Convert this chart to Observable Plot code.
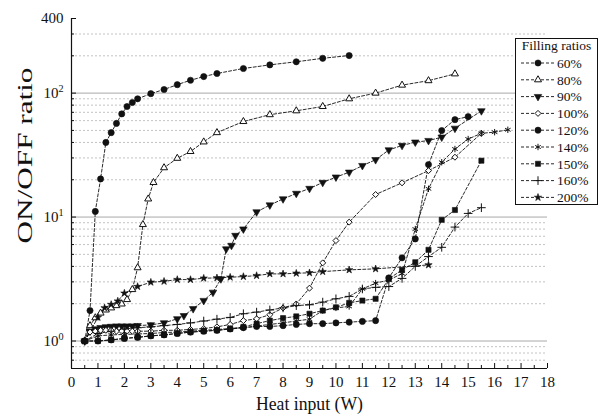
<!DOCTYPE html>
<html>
<head>
<meta charset="utf-8">
<script src="https://cdn.jsdelivr.net/npm/d3@7"></script>
<script src="https://cdn.jsdelivr.net/npm/@observablehq/plot@0.6"></script>
<style>
  body { margin: 0; background: #fff; }
  #chart { width: 599px; height: 420px; }
</style>
</head>
<body>
<div id="chart"></div>
<script>
const FONT = '"Liberation Serif", "Times New Roman", Times, serif';

// Filling ratios (legend order)
const fillingRatios = ["60%", "80%", "90%", "100%", "120%", "140%", "150%", "160%", "200%"];

// Heat input (W) and ON/OFF ratio for each filling ratio
const heat60  = [0.5, 0.7, 0.9, 1.1, 1.3, 1.5, 1.7, 1.9, 2.1, 2.3, 2.5, 3, 3.5, 4, 4.5, 5, 5.5, 6.5, 7.5, 8.5, 9.5, 10.5];
const ratio60 = [1.0, 1.76, 11.1, 20.3, 40, 48, 57, 68, 78, 84, 90, 99, 107, 117, 127, 136, 144, 158, 169, 179, 191, 201];

const heat80  = [0.5, 0.7, 0.9, 1.1, 1.3, 1.5, 1.7, 1.9, 2.1, 2.3, 2.5, 2.7, 2.9, 3.1, 3.5, 4, 4.5, 5, 5.5, 6.5, 7.5, 8.5, 9.5, 10.5, 11.5, 12.5, 13.5, 14.5];
const ratio80 = [1.0, 1.33, 1.54, 1.68, 1.78, 1.85, 1.93, 1.99, 2.16, 2.6, 3.9, 8.7, 14, 19, 25, 29.8, 33.8, 40.4, 48, 59, 67, 72, 78, 90, 100, 116, 126, 143];

const heat90  = [0.5, 0.7, 0.9, 1.1, 1.3, 1.5, 1.7, 1.9, 2.1, 2.3, 2.5, 3, 3.5, 4, 4.25, 4.6, 5, 5.35, 5.65, 5.85, 6.05, 6.2, 6.5, 7, 7.5, 8, 8.5, 9, 9.5, 10, 10.5, 11, 11.5, 12, 12.5, 13, 13.5, 14, 14.5, 15.5];
const ratio90 = [1.0, 1.2, 1.25, 1.28, 1.3, 1.31, 1.32, 1.32, 1.32, 1.32, 1.33, 1.35, 1.4, 1.51, 1.6, 1.82, 2.12, 2.47, 3.17, 5.53, 5.9, 7.1, 8.0, 11, 12.5, 14, 15.5, 17, 19, 21, 23, 26, 29, 34.8, 37.8, 40.2, 41.4, 44.1, 52, 71.9];

const heat100  = [0.5, 0.7, 0.9, 1.1, 1.3, 1.5, 1.7, 1.9, 2.1, 2.3, 2.5, 3, 3.5, 4, 4.5, 5, 5.5, 6, 6.5, 7, 7.5, 8, 8.5, 9, 9.5, 10, 10.5, 11.5, 12.5, 13.5, 14.5, 15.5];
const ratio100 = [1.0, 1.18, 1.2, 1.22, 1.22, 1.22, 1.2, 1.2, 1.2, 1.2, 1.2, 1.2, 1.22, 1.22, 1.24, 1.26, 1.3, 1.36, 1.46, 1.51, 1.63, 1.85, 1.99, 2.67, 4.27, 6.46, 9.1, 15.2, 18.9, 23.7, 30.4, 47.4];

const heat120  = [0.5, 1, 1.5, 2, 2.5, 3, 3.5, 4, 4.5, 5, 5.5, 6, 6.5, 7, 7.5, 8, 8.5, 9, 9.5, 10, 10.5, 11, 11.5, 12, 12.5, 13, 13.5, 14, 14.5, 15];
const ratio120 = [1.0, 1.0, 1.02, 1.05, 1.07, 1.1, 1.12, 1.15, 1.18, 1.2, 1.22, 1.25, 1.28, 1.31, 1.31, 1.33, 1.36, 1.38, 1.38, 1.4, 1.42, 1.44, 1.46, 3.23, 4.69, 6.66, 26.5, 49.9, 61.1, 64.6];

const heat140  = [0.5, 1, 1.5, 2, 2.5, 3, 3.5, 4, 4.5, 5, 5.5, 6, 6.5, 7, 7.5, 8, 8.5, 9, 9.5, 10, 10.5, 11, 11.5, 12, 12.5, 13, 13.5, 14, 14.5, 15, 15.5, 16, 16.5];
const ratio140 = [1.0, 1.1, 1.12, 1.13, 1.14, 1.15, 1.17, 1.18, 1.2, 1.22, 1.24, 1.26, 1.28, 1.32, 1.36, 1.4, 1.45, 1.5, 1.76, 1.85, 1.9, 2.63, 2.93, 3.1, 3.5, 8, 16.9, 27.7, 35.4, 42.6, 47.4, 48.4, 50.6];

const heat150  = [0.5, 1, 1.5, 2, 2.5, 3, 3.5, 4, 4.5, 5, 5.5, 6, 6.5, 7, 7.5, 8, 8.5, 9, 9.5, 10, 10.5, 11, 11.5, 12, 12.5, 13, 13.5, 14, 14.5, 15.5];
const ratio150 = [1.0, 1.0, 1.02, 1.05, 1.07, 1.1, 1.12, 1.15, 1.18, 1.2, 1.22, 1.25, 1.3, 1.38, 1.46, 1.53, 1.58, 1.66, 1.76, 1.87, 2.03, 2.12, 2.19, 3.17, 3.75, 4.32, 5.44, 9.5, 11.4, 28.5];

const heat160  = [0.5, 1, 1.5, 2, 2.5, 3, 3.5, 4, 4.5, 5, 5.5, 6, 6.5, 7, 7.5, 8, 8.5, 9, 9.5, 10, 10.5, 11, 11.5, 12, 12.5, 13, 13.5, 14, 14.5, 15, 15.5];
const ratio160 = [1.0, 1.15, 1.2, 1.25, 1.28, 1.3, 1.33, 1.36, 1.4, 1.45, 1.5, 1.55, 1.66, 1.71, 1.78, 1.85, 1.93, 1.96, 2.06, 2.19, 2.29, 2.63, 2.71, 2.75, 3.2, 4.0, 4.8, 5.7, 8.3, 10.7, 11.9];

const heat200  = [0.5, 1, 1.25, 1.5, 1.75, 2, 2.5, 3, 3.5, 4, 4.5, 5, 5.5, 6, 6.5, 7, 7.5, 8, 8.5, 9, 9.5, 10.5, 11.5, 13.5];
const ratio200 = [1.0, 1.55, 1.85, 1.97, 2.1, 2.43, 2.75, 2.98, 3.03, 3.13, 3.13, 3.21, 3.23, 3.27, 3.31, 3.37, 3.48, 3.48, 3.52, 3.55, 3.63, 3.75, 3.82, 4.11];

// Axis ticks and grid levels
const xTicks = d3.range(0, 19);
const xMinorTicks = d3.range(0.5, 18, 1);
const yLabelTicks = [1, 10, 100, 400];
const yMajorGrid = [1, 10, 100];
const yMinorGrid = [0.7, 0.8, 0.9, 2, 3, 4, 5, 6, 7, 8, 9, 20, 30, 40, 50, 60, 70, 80, 90, 200, 300];

// Marker style per filling ratio
const markerStyles = [
  {symbol: "circle",   filled: true,  r: 3.1, rotate: 0},
  {symbol: "triangle", filled: false, r: 2.6, rotate: 0},
  {symbol: "triangle", filled: true,  r: 2.8, rotate: 180},
  {symbol: "diamond2", filled: false, r: 2.7, rotate: 0},
  {symbol: "circle",   filled: true,  r: 3.1, rotate: 0},
  {symbol: "asterisk", filled: false, r: 3.0, rotate: 0},
  {symbol: "square",   filled: true,  r: 2.9, rotate: 0},
  {symbol: "plus",     filled: false, r: 2.9, rotate: 0},
  {symbol: "star",     filled: true,  r: 2.3, rotate: 0}
];
const strokeOnly = new Set(["asterisk", "plus", "times"]);

const heats = [heat60, heat80, heat90, heat100, heat120, heat140, heat150, heat160, heat200];
const ratios = [ratio60, ratio80, ratio90, ratio100, ratio120, ratio140, ratio150, ratio160, ratio200];

const series = fillingRatios.map((label, k) => ({
  label,
  style: markerStyles[k],
  points: heats[k].map((h, i) => ({heat: h, ratio: ratios[k][i], series: label}))
}));

function dotOptions(st) {
  const base = {x: "heat", y: "ratio", symbol: st.symbol, r: st.r, rotate: st.rotate};
  if (strokeOnly.has(st.symbol)) return {...base, fill: "none", stroke: "#111", strokeWidth: 1};
  return st.filled
    ? {...base, fill: "#111", stroke: "#111", strokeWidth: 0.6}
    : {...base, fill: "white", stroke: "#111", strokeWidth: 1};
}

const yLabel = d => d === 400 ? "400" : "10^" + Math.round(Math.log10(d));

const chart = Plot.plot({
  width: 599,
  height: 420,
  marginLeft: 71,
  marginRight: 52,
  marginTop: 18,
  marginBottom: 52,
  style: {fontFamily: FONT, fontSize: "15px", color: "#111", background: "white"},
  x: {domain: [0, 18]},
  y: {type: "log", domain: [0.6, 400]},
  marks: [
    // horizontal grid
    Plot.ruleY(yMinorGrid, {stroke: "#b4b4b4", strokeWidth: 0.8, strokeDasharray: "2,2"}),
    Plot.ruleY(yMajorGrid, {stroke: "#a8a8a8", strokeWidth: 1}),
    // connecting lines
    ...series.map(s => Plot.line(s.points, {x: "heat", y: "ratio", stroke: "#111", strokeWidth: 0.9, strokeDasharray: "3,2"})),
    // markers
    ...series.map(s => Plot.dot(s.points, dotOptions(s.style))),
    // axis lines
    Plot.ruleX([0], {stroke: "#111", strokeWidth: 1.2}),
    Plot.ruleY([0.6], {stroke: "#111", strokeWidth: 1.2}),
    // inward ticks
    Plot.axisX(xTicks, {tickSize: 5, dy: -5, fill: "none", label: null, strokeWidth: 1}),
    Plot.axisX(xMinorTicks, {tickSize: 3, dy: -3, fill: "none", label: null, strokeWidth: 1}),
    Plot.axisY([...yMajorGrid, 400], {tickSize: 5, dx: 5, fill: "none", label: null, strokeWidth: 1}),
    Plot.axisY(yMinorGrid, {tickSize: 3, dx: 3, fill: "none", label: null, strokeWidth: 1}),
    // tick labels
    Plot.axisX(xTicks, {tickSize: 0, tickPadding: 8, label: null, fontSize: 15, tickFormat: d => String(d)}),
    Plot.text(yLabelTicks, {x: 0, y: d => d, text: yLabel, dx: -8, textAnchor: "end", fontSize: 15, fill: "#111"}),
    // axis titles
    Plot.text(["Heat input (W)"], {frameAnchor: "bottom", dy: 41, fontSize: 19, fill: "#111"}),
    Plot.text(["ON/OFF ratio"], {frameAnchor: "left", dx: -46, dy: 50, rotate: -90, fontSize: 21, fill: "#111"})
  ]
});

document.getElementById("chart").appendChild(chart);

const svg = d3.select(chart);

// Power-of-ten labels: raise the exponent; fit the axis titles to their drawn length
svg.selectAll("text").each(function () {
  const t = d3.select(this);
  const s = t.text();
  const m = /^10\^(\d+)$/.exec(s);
  if (m) {
    t.text("10");
    t.append("tspan").attr("font-size", "0.68em").attr("dy", "-0.55em").text(m[1]);
  } else if (s === "ON/OFF ratio") {
    t.attr("textLength", 176).attr("lengthAdjust", "spacingAndGlyphs");
  } else if (s === "Heat input (W)") {
    t.attr("textLength", 107).attr("lengthAdjust", "spacingAndGlyphs");
  }
});

// Legend box
const legend = svg.append("g")
  .attr("font-family", FONT).attr("font-size", 13.5).attr("fill", "#111").attr("text-anchor", "start");
legend.append("rect")
  .attr("x", 515.5).attr("y", 38.5).attr("width", 82).attr("height", 166)
  .attr("fill", "white").attr("stroke", "#111").attr("stroke-width", 1);
legend.append("text").attr("x", 556.5).attr("y", 45).attr("dy", "0.35em")
  .attr("text-anchor", "middle").text("Filling ratios");
const typeMap = {circle: d3.symbolCircle, triangle: d3.symbolTriangle, diamond2: d3.symbolDiamond2,
  asterisk: d3.symbolAsterisk, square: d3.symbolSquare, plus: d3.symbolPlus, star: d3.symbolStar};
series.forEach((s, i) => {
  const y = 63 + i * 16.8;
  const st = s.style;
  legend.append("line").attr("x1", 521).attr("x2", 555).attr("y1", y).attr("y2", y)
    .attr("stroke", "#111").attr("stroke-width", 0.9).attr("stroke-dasharray", "3,2");
  const path = legend.append("path")
    .attr("d", d3.symbol(typeMap[st.symbol], Math.PI * st.r * st.r)())
    .attr("transform", `translate(538,${y}) rotate(${st.rotate})`);
  if (strokeOnly.has(st.symbol)) path.attr("fill", "none").attr("stroke", "#111").attr("stroke-width", 1);
  else if (st.filled) path.attr("fill", "#111").attr("stroke", "#111").attr("stroke-width", 0.6);
  else path.attr("fill", "white").attr("stroke", "#111").attr("stroke-width", 1);
  legend.append("text").attr("x", 557).attr("y", y).attr("dy", "0.35em").attr("text-anchor", "start").text(s.label);
});
</script>
</body>
</html>
